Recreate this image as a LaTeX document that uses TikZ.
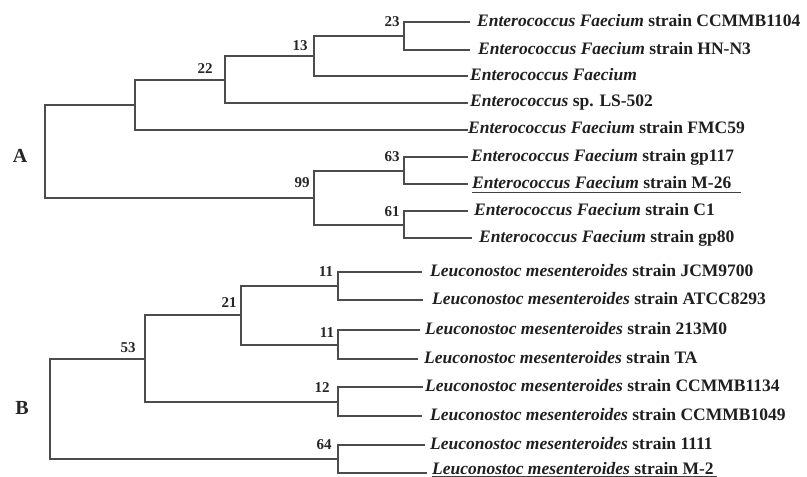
\documentclass[tikz,border=0pt]{standalone}
\usepackage{fontspec}
\setmainfont{Liberation Serif}
\usetikzlibrary{calc}
\begin{document}
\begin{tikzpicture}[x=1pt,y=-1pt,
  br/.style={line width=2pt, draw=black!70},
  leaf/.style={anchor=base west, inner sep=0pt, font=\fontsize{17.5}{20}\selectfont\bfseries, text=black!88},
  bs/.style={inner sep=0pt, font=\fontsize{15}{17}\selectfont\bfseries, text=black!85},
  grp/.style={inner sep=0pt, font=\fontsize{20}{22}\selectfont\bfseries, text=black!85},
  uline/.style={line width=1.2pt, draw=black!75}]
\useasboundingbox (0,0) rectangle (807,477);
\newcommand{\EF}{\textit{Enterococcus Faecium}}
\newcommand{\LM}{\textit{Leuconostoc mesenteroides}}
% ---------- tree A : internal nodes ----------
\coordinate (rA)  at (45,151);
\coordinate (nA1) at (135,104.5);
\coordinate (n22) at (225,79.5);
\coordinate (n13) at (314,56);
\coordinate (n23) at (404,36);
\coordinate (n99) at (314,197.5);
\coordinate (n63) at (404,170.5);
\coordinate (n61) at (404,224.5);
% leaf tips
\coordinate (a1) at (470,22);
\coordinate (a2) at (470,50);
\coordinate (a3) at (468,76);
\coordinate (a4) at (468,102.5);
\coordinate (a5) at (468,129.5);
\coordinate (a6) at (468,157);
\coordinate (a7) at (468,184);
\coordinate (a8) at (468,211);
\coordinate (a9) at (472,238);
% leaf labels
\node[leaf] (a1t) at ($(a1)+(7,4)$) {\EF{} strain CCMMB1104};
\node[leaf] (a2t) at ($(a2)+(8,4)$) {\EF{} strain HN-N3};
\node[leaf] (a3t) at ($(a3)+(2,4)$) {\EF};
\node[leaf] (a4t) at ($(a4)+(2,4)$) {\textit{Enterococcus} sp. LS-502};
\node[leaf] (a5t) at ($(a5)+(0,4)$) {\EF{} strain FMC59};
\node[leaf] (a6t) at ($(a6)+(3,4)$) {\EF{} strain gp117};
\node[leaf] (a7t) at ($(a7)+(4,4)$) {\EF{} strain M-26};
\node[leaf] (a8t) at ($(a8)+(6,4)$) {\EF{} strain C1};
\node[leaf] (a9t) at ($(a9)+(7,4)$) {\EF{} strain gp80};
\draw[uline] ($(a7t.base west)+(0,4.5)$) -- ($(a7t.base east)+(10,4.5)$);
% branches
\draw[br] (rA) |- (nA1);
\draw[br] (rA) |- (n99);
\draw[br] (nA1) |- (n22);
\draw[br] (nA1) |- (a5);
\draw[br] (n22) |- (n13);
\draw[br] (n22) |- (a4);
\draw[br] (n13) |- (n23);
\draw[br] (n13) |- (a3);
\draw[br] (n23) |- (a1);
\draw[br] (n23) |- (a2);
\draw[br] (n99) |- (n63);
\draw[br] (n99) |- (n61);
\draw[br] (n63) |- (a6);
\draw[br] (n63) |- (a7);
\draw[br] (n61) |- (a8);
\draw[br] (n61) |- (a9);
% bootstrap values
\node[bs] (l23) at (392,22) {23};
\node[bs] (l13) at (300,46) {13};
\node[bs] (l22) at (205,69) {22};
\node[bs] (l99) at (302,183) {99};
\node[bs] (l63) at (392,157) {63};
\node[bs] (l61) at (392,212) {61};
\node[grp] (gA) at (20,156) {A};
% ---------- tree B : internal nodes ----------
\coordinate (rB)   at (50,409);
\coordinate (n53)  at (145,358.5);
\coordinate (n21)  at (241,315);
\coordinate (n11a) at (338,286);
\coordinate (n11b) at (338,344.5);
\coordinate (n12)  at (338,401.5);
\coordinate (n64)  at (338,459);
% leaf tips
\coordinate (b1) at (422,272);
\coordinate (b2) at (423,300);
\coordinate (b3) at (420,330);
\coordinate (b4) at (418,359);
\coordinate (b5) at (423,387);
\coordinate (b6) at (422,416);
\coordinate (b7) at (425,445);
\coordinate (b8) at (427,473);
% leaf labels
\node[leaf] (b1t) at ($(b1)+(8,4)$) {\LM{} strain JCM9700};
\node[leaf] (b2t) at ($(b2)+(9,4)$) {\LM{} strain ATCC8293};
\node[leaf] (b3t) at ($(b3)+(5,4)$) {\LM{} strain 213M0};
\node[leaf] (b4t) at ($(b4)+(6,4)$) {\LM{} strain TA};
\node[leaf] (b5t) at ($(b5)+(2,4)$) {\LM{} strain CCMMB1134};
\node[leaf] (b6t) at ($(b6)+(8,4)$) {\LM{} strain CCMMB1049};
\node[leaf] (b7t) at ($(b7)+(5,4)$) {\LM{} strain 1111};
\node[leaf] (b8t) at ($(b8)+(5,1.5)$) {\LM{} strain M-2};
\draw[uline] ($(b8t.base west)+(0,1.6)$) -- ($(b8t.base east)+(3,1.6)$);
% branches
\draw[br] (rB) |- (n53);
\draw[br] (rB) |- (n64);
\draw[br] (n53) |- (n21);
\draw[br] (n53) |- (n12);
\draw[br] (n21) |- (n11a);
\draw[br] (n21) |- (n11b);
\draw[br] (n11a) |- (b1);
\draw[br] (n11a) |- (b2);
\draw[br] (n11b) |- (b3);
\draw[br] (n11b) |- (b4);
\draw[br] (n12) |- (b5);
\draw[br] (n12) |- (b6);
\draw[br] (n64) |- (b7);
\draw[br] (n64) |- (b8);
% bootstrap values
\node[bs] (l11a) at (326,272) {11};
\node[bs] (l21)  at (229,303) {21};
\node[bs] (l53)  at (128,348) {53};
\node[bs] (l11b) at (327,333) {11};
\node[bs] (l12)  at (322,388) {12};
\node[bs] (l64)  at (324,445) {64};
\node[grp] (gB) at (22,408) {B};
\end{tikzpicture}
\end{document}
